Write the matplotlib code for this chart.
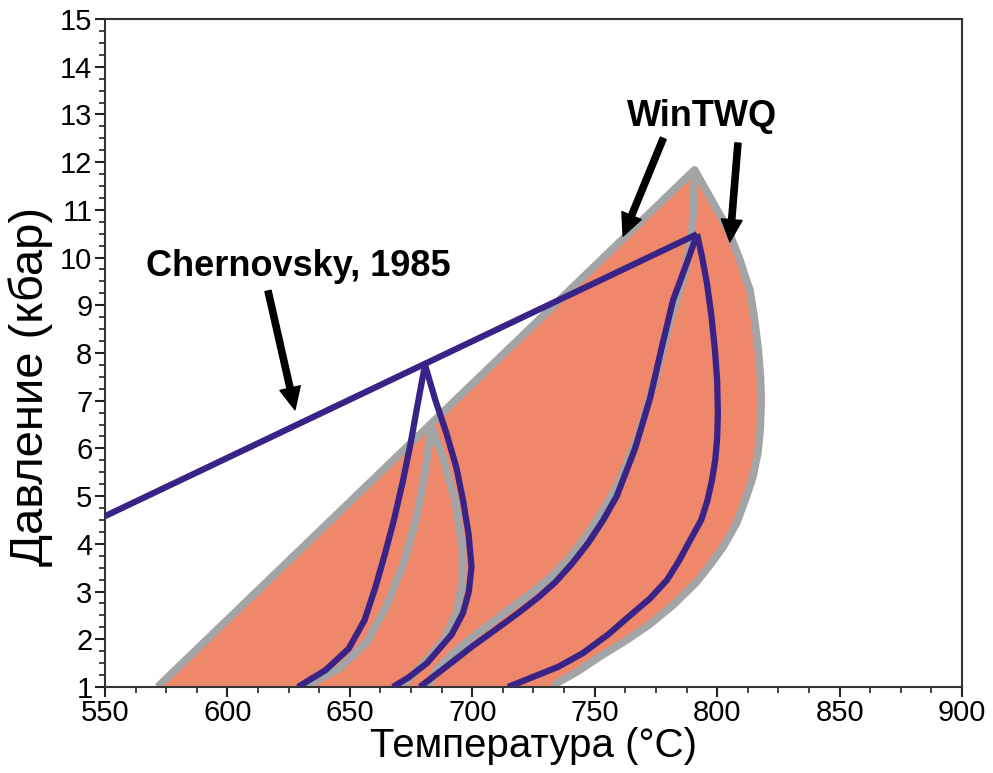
import numpy as np
import matplotlib.pyplot as plt
from matplotlib.ticker import MultipleLocator

plt.rcParams['font.family'] = ['Liberation Sans', 'DejaVu Sans']

# Огибающая поля WinTWQ (серый контур, заливка)
env_T = [571.5, 790.8, 795.4, 800.0, 803.9, 807.0, 809.3, 811.5, 813.4, 815.3, 816.8, 817.7,
         818.0, 817.6, 816.6, 814.6, 811.7, 807.9, 802.5, 797.0, 791.6, 782.1, 772.6, 763.0,
         752.2, 742.6, 735.1, 733.0]
env_P = [1.0, 11.84, 11.42, 11.00, 10.65, 10.25, 9.95, 9.60, 9.32, 8.70, 8.06, 7.50,
         7.00, 6.40, 5.90, 5.40, 4.95, 4.43, 3.94, 3.55, 3.20, 2.72, 2.32, 1.98,
         1.64, 1.31, 1.10, 1.0]

# Внутренняя серая линия от вершины
inner_T = [790.8, 790.2, 789.7, 786.8, 781.0, 775.0, 768.0, 760.0, 754.0, 747.0, 740.0, 732.0,
           723.0, 713.0, 702.0, 692.0, 686.0, 681.5]
inner_P = [11.84, 11.00, 10.52, 9.68, 8.70, 7.50, 6.30, 5.30, 4.75, 4.20, 3.72, 3.30,
           2.92, 2.55, 2.12, 1.70, 1.40, 1.0]

# Малая линза (серая)
lens_l_T = [683.4, 681.0, 677.5, 672.0, 665.0, 657.0, 646.0, 631.7]
lens_l_P = [6.46, 5.60, 4.60, 3.60, 2.70, 1.95, 1.40, 1.0]
lens_r_T = [683.4, 688.0, 693.0, 696.0, 696.0, 693.5, 688.5, 679.5, 670.5]
lens_r_P = [6.46, 5.80, 4.90, 3.90, 3.20, 2.55, 2.00, 1.45, 1.0]

# Chernovsky, 1985
chern_T = [550.0, 791.8]
chern_P = [4.58, 10.49]
small_l_T = [680.7, 677.6, 674.8, 671.6, 668.0, 664.4, 660.5, 656.0, 649.5, 640.0, 628.8]
small_l_P = [7.75, 6.90, 6.10, 5.30, 4.50, 3.80, 3.10, 2.40, 1.80, 1.35, 1.0]
small_r_T = [680.7, 685.0, 689.5, 693.5, 696.2, 698.5, 699.7, 698.6, 696.2, 691.6, 681.5, 674.0, 667.6]
small_r_P = [7.75, 7.00, 6.31, 5.60, 4.92, 4.20, 3.52, 3.00, 2.55, 2.10, 1.50, 1.20, 1.0]
big_l_T = [791.8, 787.0, 782.0, 777.3, 772.6, 766.5, 759.0, 753.5, 747.5, 741.0, 734.0,
           727.0, 719.0, 710.0, 700.0, 690.0, 678.6]
big_l_P = [10.49, 9.80, 9.11, 8.10, 7.05, 6.00, 5.00, 4.50, 4.03, 3.60, 3.20,
           2.88, 2.56, 2.22, 1.85, 1.45, 1.0]
big_r_T = [791.8, 793.9, 795.8, 797.6, 799.1, 800.0, 800.3, 800.0, 799.2, 797.9, 796.0, 793.5,
           789.0, 784.5, 779.5, 772.5, 765.6, 755.5, 745.2, 735.0, 724.8, 714.6]
big_r_P = [10.49, 10.00, 9.47, 8.80, 8.06, 7.43, 6.74, 6.20, 5.75, 5.34, 4.90, 4.50,
           4.08, 3.65, 3.24, 2.85, 2.55, 2.10, 1.71, 1.42, 1.21, 1.0]

orange = '#EF876B'
grey = '#A2A4A6'
blue = '#3A2386'

fig = plt.figure(figsize=(9.93, 7.73), dpi=100)
ax = fig.add_axes([0.1057, 0.1113, 0.8631, 0.8641])

ax.fill(env_T, env_P, color=orange, lw=0, zorder=1)
kw_g = dict(color=grey, lw=5.5, solid_joinstyle='round', solid_capstyle='butt', zorder=2)
ax.plot(env_T, env_P, **kw_g)
ax.plot(inner_T, inner_P, **kw_g)
ax.plot(lens_l_T, lens_l_P, **kw_g)
ax.plot(lens_r_T, lens_r_P, **kw_g)

kw_b = dict(color=blue, lw=4.5, solid_joinstyle='round', solid_capstyle='butt', zorder=3)
ax.plot(chern_T, chern_P, **kw_b)
for T, P in [(small_l_T, small_l_P), (small_r_T, small_r_P), (big_l_T, big_l_P), (big_r_T, big_r_P)]:
    ax.plot(T, P, **kw_b)

# Подписи и стрелки
arr = dict(facecolor='black', edgecolor='black', width=4.5, headwidth=15, headlength=16, shrink=0)
ax.text(629.0, 9.82, 'Chernovsky, 1985', fontsize=26, fontweight='bold', ha='center', va='center', zorder=5)
ax.annotate('', xy=(627.6, 6.81), xytext=(616.6, 9.30), arrowprops=arr, zorder=5)
ax.text(793.8, 12.96, 'WinTWQ', fontsize=26, fontweight='bold', ha='center', va='center', zorder=5)
ax.annotate('', xy=(761.6, 10.45), xytext=(778.0, 12.50), arrowprops=arr, zorder=5)
ax.annotate('', xy=(805.2, 10.33), xytext=(808.5, 12.40), arrowprops=arr, zorder=5)

ax.set_xlim(550, 900)
ax.set_ylim(1, 15)
ax.xaxis.set_major_locator(MultipleLocator(50))
ax.xaxis.set_minor_locator(MultipleLocator(12.5))
ax.yaxis.set_major_locator(MultipleLocator(1))
ax.yaxis.set_minor_locator(MultipleLocator(0.25))
ax.tick_params(which='major', length=7, width=1.5, labelsize=21, pad=2, color='#222222')
ax.tick_params(which='minor', length=4, width=1.2, color='#222222')
for s in ax.spines.values():
    s.set_linewidth(1.5)
    s.set_color('#333333')

ax.set_xlabel('Температура (°C)', fontsize=29, labelpad=0)
ax.set_ylabel('Давление (кбар)', fontsize=34)
ax.yaxis.set_label_coords(-0.0607, 0.45)

fig.savefig('out.png', dpi=100)
